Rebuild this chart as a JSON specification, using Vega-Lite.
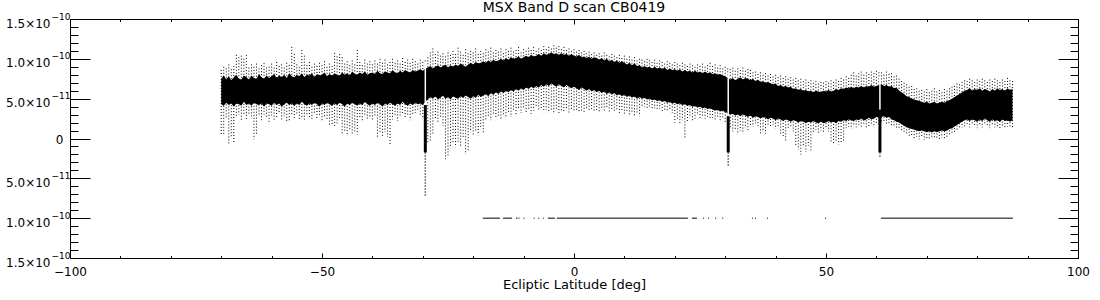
{
"$schema": "https://vega.github.io/schema/vega-lite/v6.json",
"width": 1008, "height": 239,
"autosize": {"type": "none"},
"padding": {"left": 70, "top": 19, "right": 22, "bottom": 42},
"background": "white",
"title": {"text": "MSX Band D scan CB0419", "font": "DejaVu Sans", "fontSize": 14, "fontWeight": "normal", "color": "black", "offset": -3, "anchor": "middle"},
"config": {
  "view": {"stroke": "black", "strokeWidth": 1},
  "axis": {"domainColor": "black", "domainWidth": 1, "tickColor": "black", "tickWidth": 1, "labelColor": "black", "labelFont": "DejaVu Sans", "labelFontSize": 12, "titleFont": "DejaVu Sans", "titleFontSize": 13, "titleFontWeight": "normal", "titleColor": "black", "grid": false, "labelFlush": false, "labelOverlap": false, "labelBound": false}
},
"datasets": {
"band": [
{"x":-70,"t":7.5e-11,"b":4.3e-11,"h":8.6e-11,"l":0.5e-11},
{"x":-69.5,"t":7.9e-11,"b":4.1e-11,"h":9.0e-11,"l":0.4e-11},
{"x":-69,"t":7.4e-11,"b":4.5e-11,"h":8.8e-11,"l":2.4e-11},
{"x":-68.5,"t":7.8e-11,"b":4.2e-11,"h":9.3e-11,"l":-0.7e-11},
{"x":-68,"t":7.3e-11,"b":4.4e-11,"h":8.7e-11,"l":0.2e-11},
{"x":-67.5,"t":7.7e-11,"b":4.0e-11,"h":9.1e-11,"l":-0.5e-11},
{"x":-67,"t":8.0e-11,"b":4.4e-11,"h":10.5e-11,"l":2.6e-11},
{"x":-66.5,"t":7.5e-11,"b":4.3e-11,"h":10.2e-11,"l":3.0e-11},
{"x":-66,"t":7.4e-11,"b":4.1e-11,"h":10.4e-11,"l":2.2e-11},
{"x":-65.5,"t":7.9e-11,"b":4.6e-11,"h":10.0e-11,"l":2.9e-11},
{"x":-65,"t":7.7e-11,"b":4.2e-11,"h":10.5e-11,"l":2.4e-11},
{"x":-64.5,"t":7.4e-11,"b":4.4e-11,"h":8.9e-11,"l":3.1e-11},
{"x":-64,"t":7.9e-11,"b":4.1e-11,"h":9.3e-11,"l":2.5e-11},
{"x":-63.5,"t":7.6e-11,"b":4.5e-11,"h":9.0e-11,"l":-0.1e-11},
{"x":-63,"t":7.5e-11,"b":4.3e-11,"h":9.4e-11,"l":0.6e-11},
{"x":-62.5,"t":8.1e-11,"b":4.2e-11,"h":8.8e-11,"l":2.8e-11},
{"x":-62,"t":7.7e-11,"b":4.4e-11,"h":9.2e-11,"l":2.2e-11},
{"x":-61.5,"t":7.5e-11,"b":4.0e-11,"h":9.5e-11,"l":3.0e-11},
{"x":-61,"t":7.9e-11,"b":4.4e-11,"h":8.9e-11,"l":2.6e-11},
{"x":-60.5,"t":7.6e-11,"b":4.3e-11,"h":9.0e-11,"l":2.1e-11},
{"x":-60,"t":7.8e-11,"b":4.1e-11,"h":9.4e-11,"l":2.9e-11},
{"x":-59.5,"t":8.1e-11,"b":4.5e-11,"h":8.9e-11,"l":2.3e-11},
{"x":-59,"t":7.6e-11,"b":4.2e-11,"h":9.6e-11,"l":2.7e-11},
{"x":-58.5,"t":7.9e-11,"b":4.4e-11,"h":9.1e-11,"l":3.1e-11},
{"x":-58,"t":7.7e-11,"b":4.0e-11,"h":9.3e-11,"l":2.4e-11},
{"x":-57.5,"t":8.0e-11,"b":4.3e-11,"h":8.9e-11,"l":2.8e-11},
{"x":-57,"t":7.6e-11,"b":4.5e-11,"h":9.5e-11,"l":2.0e-11},
{"x":-56.5,"t":8.2e-11,"b":4.2e-11,"h":9.2e-11,"l":2.1e-11},
{"x":-56,"t":7.8e-11,"b":4.4e-11,"h":11.5e-11,"l":2.9e-11},
{"x":-55.5,"t":7.7e-11,"b":4.1e-11,"h":10.6e-11,"l":2.5e-11},
{"x":-55,"t":8.0e-11,"b":4.4e-11,"h":9.3e-11,"l":3.0e-11},
{"x":-54.5,"t":7.8e-11,"b":4.2e-11,"h":9.0e-11,"l":2.3e-11},
{"x":-54,"t":8.2e-11,"b":4.6e-11,"h":11.1e-11,"l":2.7e-11},
{"x":-53.5,"t":7.7e-11,"b":4.3e-11,"h":10.4e-11,"l":2.2e-11},
{"x":-53,"t":8.0e-11,"b":4.1e-11,"h":9.2e-11,"l":3.0e-11},
{"x":-52.5,"t":7.9e-11,"b":4.4e-11,"h":9.6e-11,"l":2.6e-11},
{"x":-52,"t":8.2e-11,"b":4.2e-11,"h":9.0e-11,"l":2.4e-11},
{"x":-51.5,"t":7.7e-11,"b":4.5e-11,"h":9.4e-11,"l":3.1e-11},
{"x":-51,"t":8.1e-11,"b":4.3e-11,"h":9.1e-11,"l":2.5e-11},
{"x":-50.5,"t":7.9e-11,"b":4.0e-11,"h":9.5e-11,"l":2.9e-11},
{"x":-50,"t":8.0e-11,"b":4.4e-11,"h":9.2e-11,"l":2.2e-11},
{"x":-49.5,"t":8.3e-11,"b":4.2e-11,"h":9.7e-11,"l":2.8e-11},
{"x":-49,"t":7.8e-11,"b":4.5e-11,"h":9.0e-11,"l":2.3e-11},
{"x":-48.5,"t":8.1e-11,"b":4.3e-11,"h":9.4e-11,"l":1.5e-11},
{"x":-48,"t":7.9e-11,"b":4.1e-11,"h":9.1e-11,"l":1.8e-11},
{"x":-47.5,"t":8.2e-11,"b":4.4e-11,"h":10.75e-11,"l":1.4e-11},
{"x":-47,"t":8.0e-11,"b":4.2e-11,"h":10.3e-11,"l":1.9e-11},
{"x":-46.5,"t":7.9e-11,"b":4.5e-11,"h":10.6e-11,"l":2.6e-11},
{"x":-46,"t":8.3e-11,"b":4.3e-11,"h":10.2e-11,"l":0.5e-11},
{"x":-45.5,"t":8.0e-11,"b":4.0e-11,"h":9.4e-11,"l":0.8e-11},
{"x":-45,"t":8.2e-11,"b":4.4e-11,"h":9.7e-11,"l":0.3e-11},
{"x":-44.5,"t":7.9e-11,"b":4.2e-11,"h":9.2e-11,"l":1.0e-11},
{"x":-44,"t":8.4e-11,"b":4.5e-11,"h":9.8e-11,"l":0.6e-11},
{"x":-43.5,"t":8.1e-11,"b":4.3e-11,"h":9.3e-11,"l":0.9e-11},
{"x":-43,"t":8.0e-11,"b":4.1e-11,"h":11.1e-11,"l":0.5e-11},
{"x":-42.5,"t":8.3e-11,"b":4.4e-11,"h":9.6e-11,"l":2.6e-11},
{"x":-42,"t":8.1e-11,"b":4.2e-11,"h":9.2e-11,"l":2.2e-11},
{"x":-41.5,"t":8.4e-11,"b":4.6e-11,"h":9.9e-11,"l":3.0e-11},
{"x":-41,"t":8.0e-11,"b":4.3e-11,"h":9.4e-11,"l":2.5e-11},
{"x":-40.5,"t":8.2e-11,"b":4.1e-11,"h":9.7e-11,"l":2.8e-11},
{"x":-40,"t":8.3e-11,"b":4.4e-11,"h":9.3e-11,"l":2.3e-11},
{"x":-39.5,"t":8.1e-11,"b":4.2e-11,"h":9.8e-11,"l":2.7e-11},
{"x":-39,"t":8.5e-11,"b":4.5e-11,"h":9.4e-11,"l":0.1e-11},
{"x":-38.5,"t":8.2e-11,"b":4.3e-11,"h":10.0e-11,"l":0.6e-11},
{"x":-38,"t":8.1e-11,"b":4.0e-11,"h":9.5e-11,"l":0.3e-11},
{"x":-37.5,"t":8.4e-11,"b":4.4e-11,"h":9.9e-11,"l":0.8e-11},
{"x":-37,"t":8.3e-11,"b":4.2e-11,"h":9.3e-11,"l":0.2e-11},
{"x":-36.5,"t":8.2e-11,"b":4.5e-11,"h":9.6e-11,"l":-0.7e-11},
{"x":-36,"t":8.6e-11,"b":4.3e-11,"h":10.0e-11,"l":2.4e-11},
{"x":-35.5,"t":8.3e-11,"b":4.1e-11,"h":9.5e-11,"l":2.9e-11},
{"x":-35,"t":8.2e-11,"b":4.4e-11,"h":9.8e-11,"l":2.2e-11},
{"x":-34.5,"t":8.5e-11,"b":4.2e-11,"h":9.4e-11,"l":2.7e-11},
{"x":-34,"t":8.3e-11,"b":4.6e-11,"h":10.1e-11,"l":3.1e-11},
{"x":-33.5,"t":8.6e-11,"b":4.3e-11,"h":9.6e-11,"l":2.5e-11},
{"x":-33,"t":8.4e-11,"b":4.1e-11,"h":9.9e-11,"l":2.8e-11},
{"x":-32.5,"t":8.3e-11,"b":4.4e-11,"h":9.5e-11,"l":2.3e-11},
{"x":-32,"t":8.6e-11,"b":4.2e-11,"h":10.0e-11,"l":2.9e-11},
{"x":-31.5,"t":8.4e-11,"b":4.5e-11,"h":9.7e-11,"l":3.2e-11},
{"x":-31,"t":8.5e-11,"b":4.3e-11,"h":9.4e-11,"l":3.4e-11},
{"x":-30.5,"t":8.7e-11,"b":4.4e-11,"h":9.9e-11,"l":3.0e-11},
{"x":-30,"t":8.5e-11,"b":4.2e-11,"h":9.6e-11,"l":2.6e-11},
{"x":-29.5,"t":8.8e-11,"b":4.6e-11,"h":9.8e-11,"l":2.2e-11},
{"x":-29,"t":8.9e-11,"b":4.9e-11,"h":10.2e-11,"l":-0.7e-11},
{"x":-28.5,"t":9.1e-11,"b":5.2e-11,"h":10.8e-11,"l":-0.4e-11},
{"x":-28,"t":8.8e-11,"b":5.0e-11,"h":11.3e-11,"l":0.5e-11},
{"x":-27.5,"t":9.0e-11,"b":5.3e-11,"h":10.6e-11,"l":2.4e-11},
{"x":-27,"t":9.2e-11,"b":4.9e-11,"h":10.9e-11,"l":1.9e-11},
{"x":-26.5,"t":8.9e-11,"b":5.1e-11,"h":10.4e-11,"l":2.6e-11},
{"x":-26,"t":9.1e-11,"b":5.4e-11,"h":10.7e-11,"l":1.6e-11},
{"x":-25.5,"t":9.3e-11,"b":5.0e-11,"h":10.3e-11,"l":-2.6e-11},
{"x":-25,"t":8.9e-11,"b":5.2e-11,"h":10.8e-11,"l":-2.2e-11},
{"x":-24.5,"t":9.2e-11,"b":4.9e-11,"h":10.5e-11,"l":-1.2e-11},
{"x":-24,"t":9.0e-11,"b":5.3e-11,"h":11.0e-11,"l":-0.6e-11},
{"x":-23.5,"t":9.3e-11,"b":5.1e-11,"h":10.6e-11,"l":-1.1e-11},
{"x":-23,"t":9.1e-11,"b":5.0e-11,"h":11.4e-11,"l":-0.4e-11},
{"x":-22.5,"t":9.4e-11,"b":5.3e-11,"h":10.9e-11,"l":-0.9e-11},
{"x":-22,"t":9.2e-11,"b":5.1e-11,"h":10.5e-11,"l":0.2e-11},
{"x":-21.5,"t":9.0e-11,"b":5.4e-11,"h":11.2e-11,"l":-2.0e-11},
{"x":-21,"t":9.3e-11,"b":5.2e-11,"h":10.7e-11,"l":-1.6e-11},
{"x":-20.5,"t":9.5e-11,"b":5.0e-11,"h":11.0e-11,"l":0.8e-11},
{"x":-20,"t":9.3e-11,"b":5.3e-11,"h":10.8e-11,"l":0.5e-11},
{"x":-19.5,"t":9.6e-11,"b":5.1e-11,"h":11.3e-11,"l":0.9e-11},
{"x":-19,"t":9.4e-11,"b":5.5e-11,"h":10.6e-11,"l":0.4e-11},
{"x":-18.5,"t":9.5e-11,"b":5.2e-11,"h":11.0e-11,"l":1.2e-11},
{"x":-18,"t":9.7e-11,"b":5.4e-11,"h":10.7e-11,"l":0.6e-11},
{"x":-17.5,"t":9.5e-11,"b":5.6e-11,"h":11.2e-11,"l":2.4e-11},
{"x":-17,"t":9.8e-11,"b":5.3e-11,"h":10.9e-11,"l":2.7e-11},
{"x":-16.5,"t":9.6e-11,"b":5.7e-11,"h":11.4e-11,"l":2.3e-11},
{"x":-16,"t":9.9e-11,"b":5.5e-11,"h":10.8e-11,"l":2.9e-11},
{"x":-15.5,"t":9.7e-11,"b":5.8e-11,"h":11.1e-11,"l":2.5e-11},
{"x":-15,"t":9.8e-11,"b":5.6e-11,"h":10.9e-11,"l":2.8e-11},
{"x":-14.5,"t":10.0e-11,"b":5.9e-11,"h":11.3e-11,"l":2.4e-11},
{"x":-14,"t":9.8e-11,"b":5.7e-11,"h":10.7e-11,"l":3.0e-11},
{"x":-13.5,"t":10.1e-11,"b":6.0e-11,"h":11.2e-11,"l":2.6e-11},
{"x":-13,"t":9.9e-11,"b":5.8e-11,"h":11.0e-11,"l":3.2e-11},
{"x":-12.5,"t":10.2e-11,"b":6.1e-11,"h":11.4e-11,"l":2.7e-11},
{"x":-12,"t":10.0e-11,"b":5.9e-11,"h":10.9e-11,"l":3.4e-11},
{"x":-11.5,"t":10.1e-11,"b":6.2e-11,"h":11.1e-11,"l":3.0e-11},
{"x":-11,"t":10.3e-11,"b":6.0e-11,"h":11.5e-11,"l":3.6e-11},
{"x":-10.5,"t":10.0e-11,"b":6.3e-11,"h":10.8e-11,"l":3.2e-11},
{"x":-10,"t":10.2e-11,"b":6.1e-11,"h":11.2e-11,"l":3.8e-11},
{"x":-9.5,"t":10.4e-11,"b":6.4e-11,"h":11.0e-11,"l":3.3e-11},
{"x":-9,"t":10.2e-11,"b":6.2e-11,"h":11.4e-11,"l":3.7e-11},
{"x":-8.5,"t":10.5e-11,"b":6.5e-11,"h":11.1e-11,"l":3.1e-11},
{"x":-8,"t":10.3e-11,"b":6.3e-11,"h":11.5e-11,"l":3.5e-11},
{"x":-7.5,"t":10.4e-11,"b":6.6e-11,"h":11.0e-11,"l":3.9e-11},
{"x":-7,"t":10.6e-11,"b":6.4e-11,"h":11.3e-11,"l":3.4e-11},
{"x":-6.5,"t":10.4e-11,"b":6.7e-11,"h":11.1e-11,"l":3.8e-11},
{"x":-6,"t":10.7e-11,"b":6.5e-11,"h":11.6e-11,"l":3.3e-11},
{"x":-5.5,"t":10.5e-11,"b":6.8e-11,"h":11.2e-11,"l":3.6e-11},
{"x":-5,"t":10.6e-11,"b":6.6e-11,"h":11.5e-11,"l":3.2e-11},
{"x":-4.5,"t":10.8e-11,"b":6.9e-11,"h":11.3e-11,"l":3.5e-11},
{"x":-4,"t":10.6e-11,"b":6.7e-11,"h":11.7e-11,"l":3.3e-11},
{"x":-3.5,"t":10.7e-11,"b":6.5e-11,"h":11.4e-11,"l":3.6e-11},
{"x":-3,"t":10.5e-11,"b":6.8e-11,"h":11.6e-11,"l":3.2e-11},
{"x":-2.5,"t":10.7e-11,"b":6.6e-11,"h":11.2e-11,"l":3.5e-11},
{"x":-2,"t":10.5e-11,"b":6.4e-11,"h":11.5e-11,"l":3.3e-11},
{"x":-1.5,"t":10.6e-11,"b":6.7e-11,"h":11.1e-11,"l":3.6e-11},
{"x":-1,"t":10.4e-11,"b":6.5e-11,"h":11.3e-11,"l":3.2e-11},
{"x":-0.5,"t":10.6e-11,"b":6.3e-11,"h":11.0e-11,"l":3.5e-11},
{"x":0,"t":10.4e-11,"b":6.5e-11,"h":11.2e-11,"l":3.3e-11},
{"x":0.5,"t":10.3e-11,"b":6.3e-11,"h":10.9e-11,"l":3.6e-11},
{"x":1,"t":10.5e-11,"b":6.1e-11,"h":11.1e-11,"l":3.2e-11},
{"x":1.5,"t":10.2e-11,"b":6.4e-11,"h":10.8e-11,"l":3.5e-11},
{"x":2,"t":10.3e-11,"b":6.2e-11,"h":11.0e-11,"l":3.3e-11},
{"x":2.5,"t":10.1e-11,"b":6.0e-11,"h":10.7e-11,"l":3.6e-11},
{"x":3,"t":10.3e-11,"b":6.2e-11,"h":10.9e-11,"l":3.4e-11},
{"x":3.5,"t":10.0e-11,"b":5.9e-11,"h":10.6e-11,"l":3.7e-11},
{"x":4,"t":10.2e-11,"b":6.1e-11,"h":10.8e-11,"l":3.3e-11},
{"x":4.5,"t":10.1e-11,"b":5.8e-11,"h":10.5e-11,"l":3.6e-11},
{"x":5,"t":9.9e-11,"b":6.0e-11,"h":10.7e-11,"l":3.4e-11},
{"x":5.5,"t":10.1e-11,"b":5.7e-11,"h":10.4e-11,"l":3.8e-11},
{"x":6,"t":9.8e-11,"b":5.9e-11,"h":10.8e-11,"l":3.5e-11},
{"x":6.5,"t":10.0e-11,"b":5.6e-11,"h":10.5e-11,"l":3.9e-11},
{"x":7,"t":9.7e-11,"b":5.8e-11,"h":10.3e-11,"l":3.4e-11},
{"x":7.5,"t":9.9e-11,"b":5.5e-11,"h":10.6e-11,"l":3.7e-11},
{"x":8,"t":9.6e-11,"b":5.7e-11,"h":10.4e-11,"l":3.3e-11},
{"x":8.5,"t":9.8e-11,"b":5.4e-11,"h":10.2e-11,"l":3.6e-11},
{"x":9,"t":9.5e-11,"b":5.6e-11,"h":10.5e-11,"l":3.2e-11},
{"x":9.5,"t":9.7e-11,"b":5.3e-11,"h":10.1e-11,"l":3.5e-11},
{"x":10,"t":9.5e-11,"b":5.5e-11,"h":10.4e-11,"l":3.1e-11},
{"x":10.5,"t":9.3e-11,"b":5.2e-11,"h":10.0e-11,"l":3.4e-11},
{"x":11,"t":9.5e-11,"b":5.4e-11,"h":10.3e-11,"l":3.0e-11},
{"x":11.5,"t":9.2e-11,"b":5.1e-11,"h":9.9e-11,"l":3.3e-11},
{"x":12,"t":9.4e-11,"b":5.3e-11,"h":10.2e-11,"l":2.9e-11},
{"x":12.5,"t":9.1e-11,"b":5.0e-11,"h":9.8e-11,"l":3.2e-11},
{"x":13,"t":9.2e-11,"b":5.2e-11,"h":10.0e-11,"l":2.8e-11},
{"x":13.5,"t":8.9e-11,"b":5.0e-11,"h":9.9e-11,"l":3.9e-11},
{"x":14,"t":9.1e-11,"b":5.1e-11,"h":9.7e-11,"l":4.0e-11},
{"x":14.5,"t":8.9e-11,"b":4.9e-11,"h":10.0e-11,"l":3.7e-11},
{"x":15,"t":9.0e-11,"b":5.0e-11,"h":9.8e-11,"l":3.9e-11},
{"x":15.5,"t":8.8e-11,"b":4.8e-11,"h":9.6e-11,"l":3.6e-11},
{"x":16,"t":9.0e-11,"b":4.9e-11,"h":9.9e-11,"l":3.8e-11},
{"x":16.5,"t":8.8e-11,"b":4.7e-11,"h":9.5e-11,"l":3.5e-11},
{"x":17,"t":8.9e-11,"b":4.8e-11,"h":9.8e-11,"l":3.7e-11},
{"x":17.5,"t":8.7e-11,"b":4.6e-11,"h":9.6e-11,"l":3.4e-11},
{"x":18,"t":8.9e-11,"b":4.7e-11,"h":9.4e-11,"l":3.6e-11},
{"x":18.5,"t":8.6e-11,"b":4.5e-11,"h":9.7e-11,"l":3.3e-11},
{"x":19,"t":8.8e-11,"b":4.6e-11,"h":9.5e-11,"l":3.5e-11},
{"x":19.5,"t":8.6e-11,"b":4.4e-11,"h":9.3e-11,"l":3.2e-11},
{"x":20,"t":8.7e-11,"b":4.5e-11,"h":9.6e-11,"l":2.0e-11},
{"x":20.5,"t":8.5e-11,"b":4.3e-11,"h":9.4e-11,"l":2.4e-11},
{"x":21,"t":8.7e-11,"b":4.4e-11,"h":9.2e-11,"l":1.9e-11},
{"x":21.5,"t":8.4e-11,"b":4.2e-11,"h":9.5e-11,"l":2.3e-11},
{"x":22,"t":8.6e-11,"b":4.3e-11,"h":9.3e-11,"l":-0.1e-11},
{"x":22.5,"t":8.4e-11,"b":4.1e-11,"h":9.1e-11,"l":2.2e-11},
{"x":23,"t":8.5e-11,"b":4.2e-11,"h":9.4e-11,"l":2.6e-11},
{"x":23.5,"t":8.3e-11,"b":4.0e-11,"h":9.2e-11,"l":2.1e-11},
{"x":24,"t":8.5e-11,"b":4.1e-11,"h":9.0e-11,"l":2.5e-11},
{"x":24.5,"t":8.3e-11,"b":3.9e-11,"h":9.3e-11,"l":2.9e-11},
{"x":25,"t":8.4e-11,"b":4.0e-11,"h":9.1e-11,"l":2.6e-11},
{"x":25.5,"t":8.2e-11,"b":3.8e-11,"h":9.4e-11,"l":2.8e-11},
{"x":26,"t":8.4e-11,"b":3.9e-11,"h":9.0e-11,"l":2.5e-11},
{"x":26.5,"t":8.2e-11,"b":3.7e-11,"h":9.2e-11,"l":2.7e-11},
{"x":27,"t":8.3e-11,"b":3.8e-11,"h":9.5e-11,"l":2.4e-11},
{"x":27.5,"t":8.1e-11,"b":3.6e-11,"h":9.1e-11,"l":2.6e-11},
{"x":28,"t":8.2e-11,"b":3.5e-11,"h":9.3e-11,"l":2.3e-11},
{"x":28.5,"t":8.0e-11,"b":3.6e-11,"h":8.9e-11,"l":2.5e-11},
{"x":29,"t":8.1e-11,"b":3.4e-11,"h":9.2e-11,"l":2.2e-11},
{"x":29.5,"t":7.9e-11,"b":3.5e-11,"h":8.8e-11,"l":2.4e-11},
{"x":30,"t":7.8e-11,"b":3.3e-11,"h":9.0e-11,"l":2.1e-11},
{"x":30.5,"t":7.6e-11,"b":3.2e-11,"h":8.8e-11,"l":1.8e-11},
{"x":31,"t":7.4e-11,"b":3.0e-11,"h":8.7e-11,"l":1.4e-11},
{"x":31.5,"t":7.6e-11,"b":3.1e-11,"h":8.9e-11,"l":0.9e-11},
{"x":32,"t":7.3e-11,"b":2.9e-11,"h":8.5e-11,"l":1.2e-11},
{"x":32.5,"t":7.5e-11,"b":3.0e-11,"h":8.8e-11,"l":0.5e-11},
{"x":33,"t":7.7e-11,"b":2.8e-11,"h":8.6e-11,"l":1.0e-11},
{"x":33.5,"t":7.4e-11,"b":3.0e-11,"h":8.9e-11,"l":0.6e-11},
{"x":34,"t":7.6e-11,"b":2.9e-11,"h":8.5e-11,"l":1.3e-11},
{"x":34.5,"t":7.5e-11,"b":2.7e-11,"h":8.7e-11,"l":0.8e-11},
{"x":35,"t":7.3e-11,"b":2.9e-11,"h":8.6e-11,"l":1.7e-11},
{"x":35.5,"t":7.5e-11,"b":2.6e-11,"h":8.3e-11,"l":1.5e-11},
{"x":36,"t":7.2e-11,"b":2.8e-11,"h":8.4e-11,"l":1.9e-11},
{"x":36.5,"t":7.4e-11,"b":2.7e-11,"h":8.1e-11,"l":1.6e-11},
{"x":37,"t":7.1e-11,"b":2.5e-11,"h":8.3e-11,"l":0.5e-11},
{"x":37.5,"t":7.2e-11,"b":2.7e-11,"h":8.0e-11,"l":0.8e-11},
{"x":38,"t":7.0e-11,"b":2.6e-11,"h":8.2e-11,"l":0.6e-11},
{"x":38.5,"t":7.1e-11,"b":2.4e-11,"h":7.9e-11,"l":1.5e-11},
{"x":39,"t":6.9e-11,"b":2.6e-11,"h":8.1e-11,"l":1.4e-11},
{"x":39.5,"t":6.8e-11,"b":2.5e-11,"h":7.8e-11,"l":1.7e-11},
{"x":40,"t":6.9e-11,"b":2.3e-11,"h":8.0e-11,"l":1.2e-11},
{"x":40.5,"t":6.6e-11,"b":2.5e-11,"h":7.7e-11,"l":1.5e-11},
{"x":41,"t":6.7e-11,"b":2.4e-11,"h":7.9e-11,"l":0.5e-11},
{"x":41.5,"t":6.5e-11,"b":2.2e-11,"h":7.6e-11,"l":0.1e-11},
{"x":42,"t":6.6e-11,"b":2.4e-11,"h":7.8e-11,"l":-0.4e-11},
{"x":42.5,"t":6.4e-11,"b":2.3e-11,"h":7.5e-11,"l":1.1e-11},
{"x":43,"t":6.5e-11,"b":2.1e-11,"h":7.7e-11,"l":1.3e-11},
{"x":43.5,"t":6.2e-11,"b":2.3e-11,"h":7.4e-11,"l":0.9e-11},
{"x":44,"t":6.3e-11,"b":2.2e-11,"h":7.6e-11,"l":-0.8e-11},
{"x":44.5,"t":6.1e-11,"b":2.0e-11,"h":7.3e-11,"l":-1.4e-11},
{"x":45,"t":6.2e-11,"b":2.2e-11,"h":7.5e-11,"l":-2.0e-11},
{"x":45.5,"t":6.0e-11,"b":2.1e-11,"h":7.2e-11,"l":-1.1e-11},
{"x":46,"t":6.1e-11,"b":1.9e-11,"h":7.4e-11,"l":-1.7e-11},
{"x":46.5,"t":5.9e-11,"b":2.1e-11,"h":7.1e-11,"l":-0.9e-11},
{"x":47,"t":6.0e-11,"b":2.0e-11,"h":7.3e-11,"l":-1.5e-11},
{"x":47.5,"t":5.8e-11,"b":2.2e-11,"h":7.0e-11,"l":0.8e-11},
{"x":48,"t":6.0e-11,"b":2.0e-11,"h":7.2e-11,"l":1.1e-11},
{"x":48.5,"t":5.9e-11,"b":1.9e-11,"h":6.9e-11,"l":0.7e-11},
{"x":49,"t":5.8e-11,"b":2.1e-11,"h":7.1e-11,"l":1.0e-11},
{"x":49.5,"t":6.0e-11,"b":1.9e-11,"h":7.0e-11,"l":0.8e-11},
{"x":50,"t":5.9e-11,"b":2.0e-11,"h":7.2e-11,"l":1.2e-11},
{"x":50.5,"t":6.1e-11,"b":2.2e-11,"h":7.0e-11,"l":0.9e-11},
{"x":51,"t":5.9e-11,"b":2.0e-11,"h":7.3e-11,"l":-0.4e-11},
{"x":51.5,"t":6.0e-11,"b":2.1e-11,"h":7.1e-11,"l":-0.7e-11},
{"x":52,"t":6.2e-11,"b":1.9e-11,"h":7.4e-11,"l":-0.5e-11},
{"x":52.5,"t":6.1e-11,"b":2.2e-11,"h":7.2e-11,"l":-0.75e-11},
{"x":53,"t":6.3e-11,"b":2.1e-11,"h":7.6e-11,"l":-0.5e-11},
{"x":53.5,"t":6.2e-11,"b":2.3e-11,"h":7.4e-11,"l":-0.3e-11},
{"x":54,"t":6.4e-11,"b":2.2e-11,"h":7.8e-11,"l":1.3e-11},
{"x":54.5,"t":6.3e-11,"b":2.4e-11,"h":7.6e-11,"l":1.5e-11},
{"x":55,"t":6.5e-11,"b":2.3e-11,"h":8.0e-11,"l":1.2e-11},
{"x":55.5,"t":6.3e-11,"b":2.2e-11,"h":8.3e-11,"l":1.6e-11},
{"x":56,"t":6.5e-11,"b":2.4e-11,"h":7.9e-11,"l":1.4e-11},
{"x":56.5,"t":6.4e-11,"b":2.3e-11,"h":8.2e-11,"l":1.7e-11},
{"x":57,"t":6.6e-11,"b":2.5e-11,"h":8.4e-11,"l":1.3e-11},
{"x":57.5,"t":6.4e-11,"b":2.3e-11,"h":8.0e-11,"l":1.6e-11},
{"x":58,"t":6.6e-11,"b":2.4e-11,"h":8.3e-11,"l":1.2e-11},
{"x":58.5,"t":6.5e-11,"b":2.6e-11,"h":8.1e-11,"l":1.5e-11},
{"x":59,"t":6.7e-11,"b":2.4e-11,"h":8.4e-11,"l":1.8e-11},
{"x":59.5,"t":6.5e-11,"b":2.5e-11,"h":8.2e-11,"l":1.4e-11},
{"x":60,"t":6.6e-11,"b":2.7e-11,"h":8.5e-11,"l":1.9e-11},
{"x":60.5,"t":6.7e-11,"b":2.6e-11,"h":8.3e-11,"l":1.7e-11},
{"x":61,"t":6.8e-11,"b":2.7e-11,"h":8.3e-11,"l":1.9e-11},
{"x":61.5,"t":6.6e-11,"b":2.8e-11,"h":8.0e-11,"l":2.0e-11},
{"x":62,"t":6.7e-11,"b":2.6e-11,"h":8.4e-11,"l":1.7e-11},
{"x":62.5,"t":6.5e-11,"b":2.7e-11,"h":8.1e-11,"l":1.9e-11},
{"x":63,"t":6.6e-11,"b":2.4e-11,"h":8.2e-11,"l":1.6e-11},
{"x":63.5,"t":6.3e-11,"b":2.3e-11,"h":7.8e-11,"l":1.5e-11},
{"x":64,"t":6.4e-11,"b":2.1e-11,"h":7.9e-11,"l":1.3e-11},
{"x":64.5,"t":6.0e-11,"b":2.0e-11,"h":7.5e-11,"l":1.1e-11},
{"x":65,"t":5.8e-11,"b":1.8e-11,"h":7.2e-11,"l":0.9e-11},
{"x":65.5,"t":5.6e-11,"b":1.6e-11,"h":7.0e-11,"l":0.8e-11},
{"x":66,"t":5.3e-11,"b":1.4e-11,"h":6.8e-11,"l":0.4e-11},
{"x":66.5,"t":5.2e-11,"b":1.3e-11,"h":6.5e-11,"l":0.1e-11},
{"x":67,"t":5.0e-11,"b":1.2e-11,"h":6.6e-11,"l":0.3e-11},
{"x":67.5,"t":4.9e-11,"b":1.1e-11,"h":6.2e-11,"l":-0.1e-11},
{"x":68,"t":4.8e-11,"b":1.0e-11,"h":6.3e-11,"l":0.2e-11},
{"x":68.5,"t":4.7e-11,"b":0.9e-11,"h":6.0e-11,"l":-0.1e-11},
{"x":69,"t":4.6e-11,"b":1.0e-11,"h":6.1e-11,"l":0.1e-11},
{"x":69.5,"t":4.5e-11,"b":0.9e-11,"h":5.9e-11,"l":-0.2e-11},
{"x":70,"t":4.6e-11,"b":0.8e-11,"h":6.2e-11,"l":0},
{"x":70.5,"t":4.4e-11,"b":0.9e-11,"h":5.8e-11,"l":-0.1e-11},
{"x":71,"t":4.5e-11,"b":0.8e-11,"h":6.0e-11,"l":0.2e-11},
{"x":71.5,"t":4.6e-11,"b":0.9e-11,"h":6.3e-11,"l":-0.1e-11},
{"x":72,"t":4.4e-11,"b":0.8e-11,"h":5.9e-11,"l":0},
{"x":72.5,"t":4.5e-11,"b":0.9e-11,"h":6.1e-11,"l":-0.2e-11},
{"x":73,"t":4.6e-11,"b":1.0e-11,"h":5.8e-11,"l":0.1e-11},
{"x":73.5,"t":4.5e-11,"b":0.9e-11,"h":6.2e-11,"l":0},
{"x":74,"t":4.7e-11,"b":1.0e-11,"h":6.0e-11,"l":0.2e-11},
{"x":74.5,"t":4.8e-11,"b":1.2e-11,"h":6.3e-11,"l":0.4e-11},
{"x":75,"t":5.0e-11,"b":1.3e-11,"h":6.5e-11,"l":0.6e-11},
{"x":75.5,"t":5.2e-11,"b":1.5e-11,"h":6.6e-11,"l":0.8e-11},
{"x":76,"t":5.4e-11,"b":1.7e-11,"h":6.9e-11,"l":1.0e-11},
{"x":76.5,"t":5.6e-11,"b":1.9e-11,"h":6.8e-11,"l":1.2e-11},
{"x":77,"t":5.8e-11,"b":2.1e-11,"h":7.1e-11,"l":1.4e-11},
{"x":77.5,"t":6.0e-11,"b":2.3e-11,"h":7.3e-11,"l":1.5e-11},
{"x":78,"t":6.1e-11,"b":2.4e-11,"h":7.2e-11,"l":1.6e-11},
{"x":78.5,"t":6.3e-11,"b":2.2e-11,"h":7.5e-11,"l":1.4e-11},
{"x":79,"t":6.0e-11,"b":2.4e-11,"h":7.3e-11,"l":1.7e-11},
{"x":79.5,"t":6.2e-11,"b":2.3e-11,"h":7.1e-11,"l":1.5e-11},
{"x":80,"t":6.1e-11,"b":2.1e-11,"h":7.4e-11,"l":1.3e-11},
{"x":80.5,"t":6.3e-11,"b":2.4e-11,"h":7.2e-11,"l":1.6e-11},
{"x":81,"t":6.0e-11,"b":2.2e-11,"h":7.5e-11,"l":1.4e-11},
{"x":81.5,"t":6.2e-11,"b":2.5e-11,"h":7.3e-11,"l":1.7e-11},
{"x":82,"t":6.1e-11,"b":2.3e-11,"h":7.1e-11,"l":1.5e-11},
{"x":82.5,"t":5.9e-11,"b":2.1e-11,"h":7.4e-11,"l":1.3e-11},
{"x":83,"t":6.2e-11,"b":2.4e-11,"h":7.2e-11,"l":1.6e-11},
{"x":83.5,"t":6.0e-11,"b":2.2e-11,"h":7.5e-11,"l":1.4e-11},
{"x":84,"t":6.3e-11,"b":2.3e-11,"h":7.3e-11,"l":1.5e-11},
{"x":84.5,"t":6.1e-11,"b":2.1e-11,"h":7.1e-11,"l":1.3e-11},
{"x":85,"t":6.2e-11,"b":2.4e-11,"h":7.4e-11,"l":1.6e-11},
{"x":85.5,"t":6.0e-11,"b":2.2e-11,"h":7.2e-11,"l":1.4e-11},
{"x":86,"t":6.3e-11,"b":2.3e-11,"h":7.6e-11,"l":1.5e-11},
{"x":86.5,"t":6.1e-11,"b":2.1e-11,"h":7.3e-11,"l":1.3e-11},
{"x":87,"t":6.2e-11,"b":2.3e-11,"h":7.2e-11,"l":1.4e-11}
],
"spikes": [
{"x":-29.5,"gt":9.6e-11,"gb":4.2e-11,"sb":-1.75e-11,"db":-7.4e-11},
{"x":30.6,"gt":8.3e-11,"gb":2.8e-11,"sb":-1.75e-11,"db":-3.5e-11},
{"x":60.7,"gt":7.6e-11,"gb":3.6e-11,"sb":-1.75e-11,"db":-2.5e-11}
],
"flag": [
{"x0":-18.1,"x1":-14.7,"y":-1e-10},
{"x0":-14.1,"x1":-12.3,"y":-1e-10},
{"x0":-11.5,"x1":-11.2,"y":-1e-10},
{"x0":-11.0,"x1":-10.8,"y":-1e-10},
{"x0":-10.0,"x1":-9.8,"y":-1e-10},
{"x0":-8.0,"x1":-7.8,"y":-1e-10},
{"x0":-7.1,"x1":-6.9,"y":-1e-10},
{"x0":-6.2,"x1":-6.0,"y":-1e-10},
{"x0":-5.2,"x1":-3.8,"y":-1e-10},
{"x0":-3.4,"x1":22.6,"y":-1e-10},
{"x0":23.4,"x1":24.4,"y":-1e-10},
{"x0":25.6,"x1":25.8,"y":-1e-10},
{"x0":26.6,"x1":26.8,"y":-1e-10},
{"x0":28.0,"x1":28.2,"y":-1e-10},
{"x0":29.4,"x1":29.6,"y":-1e-10},
{"x0":35.3,"x1":35.5,"y":-1e-10},
{"x0":35.9,"x1":36.1,"y":-1e-10},
{"x0":38.3,"x1":38.5,"y":-1e-10},
{"x0":49.8,"x1":50.0,"y":-1e-10},
{"x0":60.9,"x1":87.1,"y":-1e-10}
]
},
"layer": [
{"data": {"name": "band"},
 "mark": {"type": "rule", "color": "black", "strokeWidth": 1, "strokeDash": [1, 2]},
 "encoding": {
  "x": {"field": "x", "type": "quantitative", "scale": {"domain": [-100, 100], "nice": false, "zero": false}, "axis": null},
  "y": {"field": "h", "type": "quantitative", "scale": {"domain": [-1.5e-10, 1.5e-10], "nice": false, "zero": false}, "axis": null},
  "y2": {"field": "l"}
 }},
{"data": {"name": "band"},
 "mark": {"type": "area", "color": "black", "interpolate": "linear", "opacity": 1},
 "encoding": {
  "x": {"field": "x", "type": "quantitative", "scale": {"domain": [-100, 100], "nice": false, "zero": false},
    "axis": {"orient": "bottom", "values": [-100,-90,-80,-70,-60,-50,-40,-30,-20,-10,0,10,20,30,40,50,60,70,80,90,100],
      "labelExpr": "datum.value % 50 == 0 ? format(datum.value, 'd') : ''",
      "tickSize": {"condition": {"test": "datum.value % 50 == 0", "value": -5}, "value": -2.5},
      "labelPadding": 13, "title": "Ecliptic Latitude [deg]", "titlePadding": -1}},
  "y": {"field": "t", "type": "quantitative", "scale": {"domain": [-1.5e-10, 1.5e-10], "nice": false, "zero": false},
    "axis": {"orient": "left", "values": [-1.5e-10,-1.4e-10,-1.3e-10,-1.2e-10,-1.1e-10,-1e-10,-9e-11,-8e-11,-7e-11,-6e-11,-5e-11,-4e-11,-3e-11,-2e-11,-1e-11,0,1e-11,2e-11,3e-11,4e-11,5e-11,6e-11,7e-11,8e-11,9e-11,1e-10,1.1e-10,1.2e-10,1.3e-10,1.4e-10,1.5e-10],
      "labelExpr": "round(datum.value*1e11) == 0 ? '0' : (round(datum.value*1e11) % 5 != 0 ? '' : (abs(round(datum.value*1e11)) == 15 ? '1.5×10' : (abs(round(datum.value*1e11)) == 10 ? '1.0×10' : '5.0×10')))",
      "tickSize": {"condition": {"test": "round(datum.value*1e11) % 5 == 0", "value": -20}, "value": -8},
      "labelPadding": {"condition": {"test": "round(datum.value*1e11) == 0", "value": 27}, "value": 40},
      "labelOffset": {"condition": {"test": "round(datum.value*1e11) == 0", "value": 1}, "value": 4},
      "title": null}},
  "y2": {"field": "b"}
 }},
{"data": {"name": "spikes"},
 "mark": {"type": "rule", "color": "white", "strokeWidth": 1.5},
 "encoding": {
  "x": {"field": "x", "type": "quantitative", "scale": {"domain": [-100, 100], "nice": false, "zero": false}, "axis": null},
  "y": {"field": "gt", "type": "quantitative", "scale": {"domain": [-1.5e-10, 1.5e-10], "nice": false, "zero": false},
    "axis": {"orient": "left", "values": [-1.5e-10,-1e-10,-5e-11,5e-11,1e-10,1.5e-10],
      "labelExpr": "abs(round(datum.value*1e11)) == 5 ? '−11' : '−10'",
      "labelFontSize": 9, "labelAlign": "left", "labelBaseline": "middle", "labelOffset": -3,
      "labelPadding": 19, "ticks": false, "tickSize": 0, "domain": false, "title": null}},
  "y2": {"field": "gb"}
 }},
{"data": {"name": "spikes"},
 "mark": {"type": "rule", "color": "black", "strokeWidth": 3},
 "encoding": {
  "x": {"field": "x", "type": "quantitative", "scale": {"domain": [-100, 100], "nice": false, "zero": false}, "axis": null},
  "y": {"field": "gb", "type": "quantitative", "scale": {"domain": [-1.5e-10, 1.5e-10], "nice": false, "zero": false}, "axis": null},
  "y2": {"field": "sb"}
 }},
{"data": {"name": "spikes"},
 "mark": {"type": "rule", "color": "black", "strokeWidth": 1.5, "strokeDash": [1, 2]},
 "encoding": {
  "x": {"field": "x", "type": "quantitative", "scale": {"domain": [-100, 100], "nice": false, "zero": false}, "axis": null},
  "y": {"field": "sb", "type": "quantitative", "scale": {"domain": [-1.5e-10, 1.5e-10], "nice": false, "zero": false}, "axis": null},
  "y2": {"field": "db"}
 }},
{"data": {"name": "flag"},
 "mark": {"type": "rule", "color": "black", "strokeWidth": 1},
 "encoding": {
  "x": {"field": "x0", "type": "quantitative", "scale": {"domain": [-100, 100], "nice": false, "zero": false},
    "axis": {"orient": "top", "values": [-100,-90,-80,-70,-60,-50,-40,-30,-20,-10,0,10,20,30,40,50,60,70,80,90,100],
      "labels": false, "tickSize": {"condition": {"test": "datum.value % 50 == 0", "value": -5}, "value": -2.5}, "title": null}},
  "x2": {"field": "x1"},
  "y": {"field": "y", "type": "quantitative", "scale": {"domain": [-1.5e-10, 1.5e-10], "nice": false, "zero": false},
    "axis": {"orient": "right", "values": [-1.5e-10,-1.4e-10,-1.3e-10,-1.2e-10,-1.1e-10,-1e-10,-9e-11,-8e-11,-7e-11,-6e-11,-5e-11,-4e-11,-3e-11,-2e-11,-1e-11,0,1e-11,2e-11,3e-11,4e-11,5e-11,6e-11,7e-11,8e-11,9e-11,1e-10,1.1e-10,1.2e-10,1.3e-10,1.4e-10,1.5e-10],
      "labels": false, "tickSize": {"condition": {"test": "round(datum.value*1e11) % 5 == 0", "value": -20}, "value": -8}, "title": null}}
 }}
],
"resolve": {"axis": {"x": "independent", "y": "independent"}}
}
